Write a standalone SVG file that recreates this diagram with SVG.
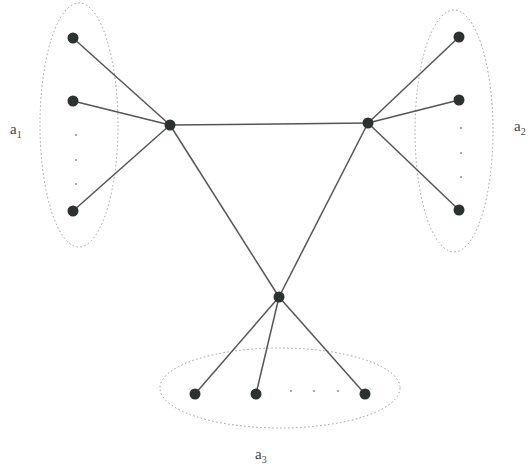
<svg xmlns="http://www.w3.org/2000/svg" width="531" height="471" viewBox="0 0 531 471">
<style>
.e{stroke:#555;stroke-width:1.5;fill:none}
.n{fill:#2b332f}
.g{fill:none;stroke:#999;stroke-width:1;stroke-dasharray:1.5 2.5}
.d{fill:#888}
.t{font-family:"Liberation Serif",serif;font-size:15px;fill:#444}
.s{font-family:"Liberation Serif",serif;font-size:10px;fill:#444}
</style>
<rect width="531" height="471" fill="#fff"/>
<g id="groups">
<ellipse class="g" cx="79" cy="125" rx="39" ry="122"/>
<ellipse class="g" cx="454" cy="131" rx="39" ry="121"/>
<ellipse class="g" cx="280" cy="388" rx="120" ry="40"/>
</g>
<g id="connectors">
<line class="e" x1="170" y1="125" x2="368" y2="123"/>
<line class="e" x1="170" y1="125" x2="279" y2="297"/>
<line class="e" x1="368" y1="123" x2="279" y2="297"/>
<line class="e" x1="170" y1="125" x2="73" y2="38"/>
<line class="e" x1="170" y1="125" x2="73" y2="101"/>
<line class="e" x1="170" y1="125" x2="73" y2="211"/>
<line class="e" x1="368" y1="123" x2="459" y2="37"/>
<line class="e" x1="368" y1="123" x2="459" y2="100"/>
<line class="e" x1="368" y1="123" x2="459" y2="210"/>
<line class="e" x1="279" y1="297" x2="195" y2="394"/>
<line class="e" x1="279" y1="297" x2="256" y2="394"/>
<line class="e" x1="279" y1="297" x2="365" y2="394"/>
</g>
<g id="hub1"><circle class="n" cx="170" cy="125" r="5.5"/></g>
<g id="hub2"><circle class="n" cx="368" cy="123" r="5.5"/></g>
<g id="hub3"><circle class="n" cx="279" cy="297" r="5.5"/></g>
<g id="l1"><circle class="n" cx="73" cy="38" r="5.5"/></g>
<g id="l2"><circle class="n" cx="73" cy="101" r="5.5"/></g>
<g id="l3"><circle class="n" cx="73" cy="211" r="5.5"/></g>
<g id="r1"><circle class="n" cx="459" cy="37" r="5.5"/></g>
<g id="r2"><circle class="n" cx="459" cy="100" r="5.5"/></g>
<g id="r3"><circle class="n" cx="459" cy="210" r="5.5"/></g>
<g id="b1"><circle class="n" cx="195" cy="394" r="5.5"/></g>
<g id="b2"><circle class="n" cx="256" cy="394" r="5.5"/></g>
<g id="b3"><circle class="n" cx="365" cy="394" r="5.5"/></g>
<g id="dots">
<circle class="d" cx="76" cy="135" r="1"/><circle class="d" cx="76" cy="160" r="1"/><circle class="d" cx="76" cy="184" r="1"/>
<circle class="d" cx="461" cy="128" r="1"/><circle class="d" cx="461" cy="153" r="1"/><circle class="d" cx="461" cy="177" r="1"/>
<circle class="d" cx="291" cy="391" r="1"/><circle class="d" cx="314" cy="391" r="1"/><circle class="d" cx="338" cy="391" r="1"/>
</g>
<g id="labels">
<text class="t" x="10" y="134">a<tspan class="s" dy="4">1</tspan></text>
<text class="t" x="514" y="131">a<tspan class="s" dy="4">2</tspan></text>
<text class="t" x="255" y="459">a<tspan class="s" dy="4">3</tspan></text>
</g>
</svg>
